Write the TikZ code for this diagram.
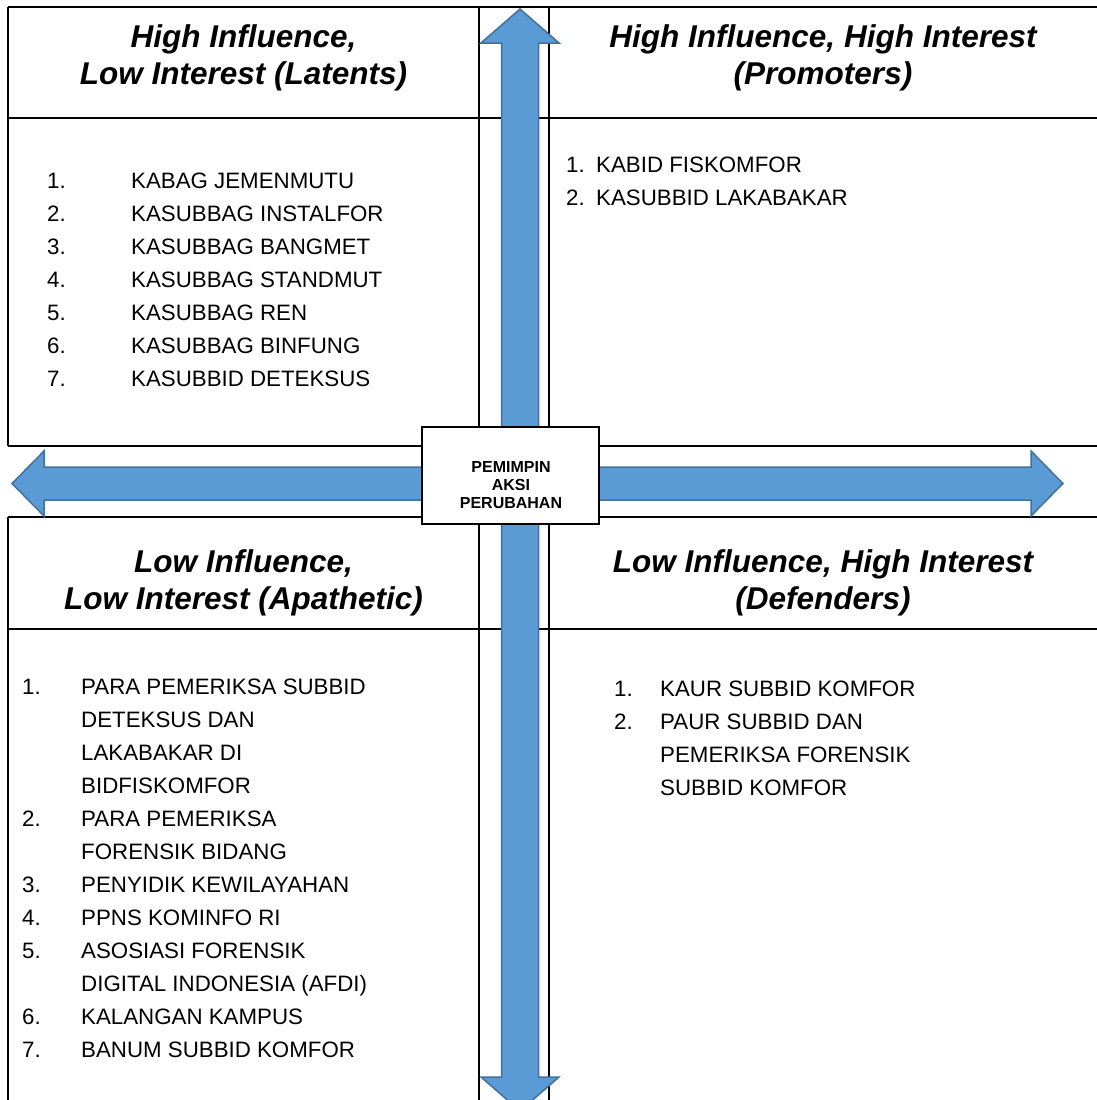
\documentclass[tikz,border=0pt]{standalone}
\usepackage{fontspec}
\setmainfont{Liberation Sans}
\usepackage{array}
\definecolor{arrowblue}{HTML}{5B9BD5}
\definecolor{arrowedge}{HTML}{41719C}
\begin{document}
\begin{tikzpicture}[x=1pt, y=-1pt,
    grid/.style={line width=2pt},
    bigarrow/.style={fill=arrowblue, draw=arrowedge, line width=1.5pt, line join=miter},
    head/.style={font=\fontsize{31.5}{37}\selectfont\bfseries\itshape, align=center, inner sep=0pt},
    items/.style={font=\fontsize{22.3}{33}\selectfont, anchor=north west, inner sep=0pt},
    leadbox/.style={draw, fill=white, line width=1.8pt, minimum width=177pt, minimum height=97pt, inner sep=0pt},
    leadtext/.style={font=\fontsize{16}{18.3}\selectfont\bfseries, align=center, inner sep=0pt}]
  \useasboundingbox (0,0) rectangle (1097,1100);
  \clip (0,0) rectangle (1097,1100);
  % table lines
  \foreach \y in {7,118,446,517,629}
    \draw[grid] (8,\y) -- (1097,\y);
  \draw[grid] (8,7) -- (8,446);
  \draw[grid] (8,517) -- (8,1100);
  \draw[grid] (479,7) -- (479,1100);
  \draw[grid] (549,7) -- (549,1100);
  % arrows
  \draw[bigarrow] (12,483.5) -- (44,451) -- (44,467) -- (1031,467) -- (1031,451) -- (1063,483.5)
    -- (1031,516) -- (1031,500) -- (44,500) -- (44,516) -- cycle;
  \draw[bigarrow] (520,9) -- (559,43) -- (538.5,43) -- (538.5,1077) -- (559,1077) -- (520,1111)
    -- (481,1077) -- (501.5,1077) -- (501.5,43) -- (481,43) -- cycle;
  % headers
  \node[head] (latents) at (243.5,58) {High Influence,\\Low Interest (Latents)};
  \node[head] (promoters) at (823,58) {High Influence, High Interest\\(Promoters)};
  \node[head] (apathetic) at (243.5,583) {Low Influence,\\Low Interest (Apathetic)};
  \node[head] (defenders) at (823,583) {Low Influence, High Interest\\(Defenders)};
  % lists
  \node[items] (latentlist) at (47,165) {\begin{tabular}{@{}w{l}{84pt}@{}l@{}}
    1. & KABAG JEMENMUTU\\
    2. & KASUBBAG INSTALFOR\\
    3. & KASUBBAG BANGMET\\
    4. & KASUBBAG STANDMUT\\
    5. & KASUBBAG REN\\
    6. & KASUBBAG BINFUNG\\
    7. & KASUBBID DETEKSUS
  \end{tabular}};
  \node[items] (promolist) at (566,149) {\begin{tabular}{@{}w{l}{30pt}@{}l@{}}
    1. & KABID FISKOMFOR\\
    2. & KASUBBID LAKABAKAR
  \end{tabular}};
  \node[items] (apathlist) at (22,671) {\begin{tabular}{@{}w{l}{59pt}@{}l@{}}
    1. & PARA PEMERIKSA SUBBID\\
       & DETEKSUS DAN\\
       & LAKABAKAR DI\\
       & BIDFISKOMFOR\\
    2. & PARA PEMERIKSA\\
       & FORENSIK BIDANG\\
    3. & PENYIDIK KEWILAYAHAN\\
    4. & PPNS KOMINFO RI\\
    5. & ASOSIASI FORENSIK\\
       & DIGITAL INDONESIA (AFDI)\\
    6. & KALANGAN KAMPUS\\
    7. & BANUM SUBBID KOMFOR
  \end{tabular}};
  \node[items] (defendlist) at (614,673) {\begin{tabular}{@{}w{l}{46pt}@{}l@{}}
    1. & KAUR SUBBID KOMFOR\\
    2. & PAUR SUBBID DAN\\
       & PEMERIKSA FORENSIK\\
       & SUBBID KOMFOR
  \end{tabular}};
  % center box
  \node[leadbox] (lead) at (510.5,475.5) {};
  \node[leadtext] (leadlabel) at (511,485) {PEMIMPIN\\AKSI\\PERUBAHAN};
\end{tikzpicture}
\end{document}
